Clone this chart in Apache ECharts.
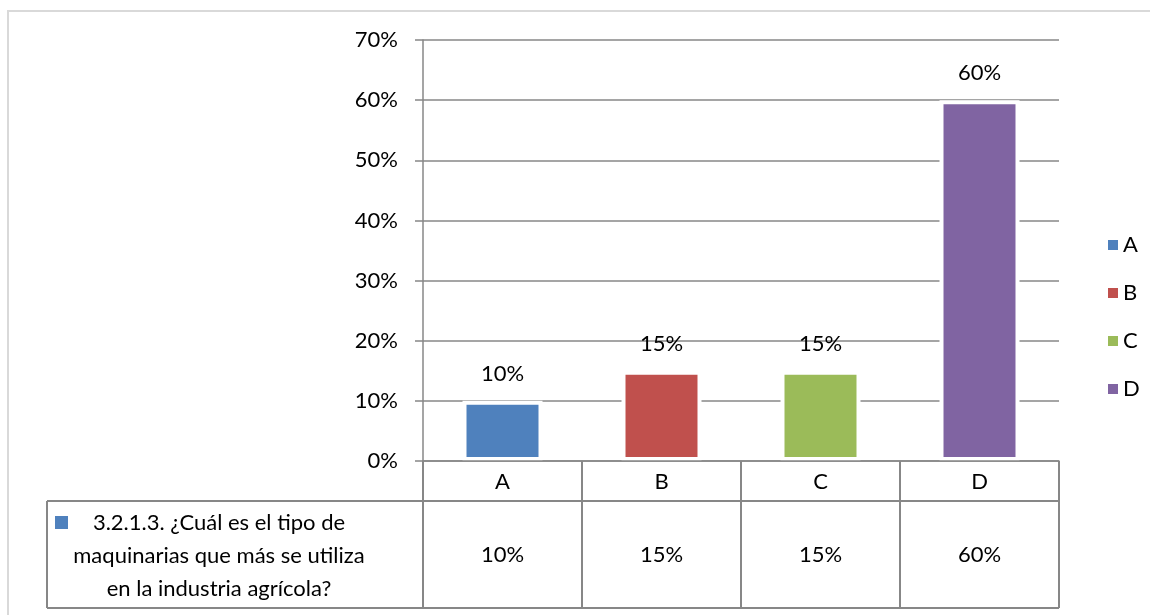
<!DOCTYPE html>
<html>
<head>
<meta charset="utf-8">
<script src="https://cdn.jsdelivr.net/npm/echarts@6/dist/echarts.min.js"></script>
<style>
  html, body { margin: 0; padding: 0; background: #fff; }
  #chart { width: 1150px; height: 615px; }
</style>
</head>
<body>
<div id="chart"></div>
<script>
// Share of answers per machinery type
const categories = ['A', 'B', 'C', 'D'];
const values = [10, 15, 15, 60];
const colors = ['#4f81bd', '#c0504d', '#9bbb59', '#8064a2'];
const yMin = 0, yMax = 70, yStep = 10;
const questionLines = [
  '3.2.1.3. ¿Cuál es el tipo de',
  'maquinarias que más se utiliza',
  'en la industria agrícola?'
];

const FONT = 'Lato, "Open Sans", sans-serif';
const LINE = '#878787';

const chart = echarts.init(document.getElementById('chart'));

chart.setOption({
  animation: false,
  backgroundColor: '#fff',
  grid: { left: 423, right: 91, top: 40, bottom: 154 },
  legend: {
    orient: 'vertical',
    left: 1103,
    top: 228,
    itemWidth: 10,
    itemHeight: 10,
    itemGap: 24,
    icon: 'rect',
    itemStyle: { borderWidth: 0 },
    textStyle: { fontFamily: FONT, fontSize: 22, color: '#000', lineHeight: 24 },
    data: categories
  },
  xAxis: {
    type: 'category',
    data: categories,
    z: 5,
    axisLine: { lineStyle: { color: LINE, width: 1.5 } },
    axisTick: { show: false },
    axisLabel: { margin: 10, fontFamily: FONT, fontSize: 22, color: '#000' }
  },
  yAxis: {
    type: 'value',
    min: yMin,
    max: yMax,
    interval: yStep,
    axisLine: { show: true, lineStyle: { color: LINE, width: 1.5 } },
    axisTick: { show: true, length: 8, lineStyle: { color: LINE, width: 1.5 } },
    splitLine: { lineStyle: { color: LINE, width: 1.5 } },
    axisLabel: { margin: 25, formatter: '{value}%', fontFamily: FONT, fontSize: 22, color: '#000' }
  },
  series: categories.map((name, i) => ({
    name: name,
    type: 'bar',
    barGap: '-100%',
    barWidth: 80,
    data: categories.map((c, j) => (j === i ? values[i] : '-')),
    itemStyle: { color: colors[i], borderColor: '#fff', borderWidth: 4 },
    label: {
      show: true,
      position: 'top',
      distance: 16,
      formatter: '{c}%',
      fontFamily: FONT,
      fontSize: 22,
      color: '#000'
    }
  }))
});

// Data table under the plot, laid out from the axis scales
function drawTable() {
  const centers = categories.map(c => chart.convertToPixel({ xAxisIndex: 0 }, c));
  const band = centers[1] - centers[0];
  const bounds = [centers[0] - band / 2].concat(centers.map(x => x + band / 2));
  const y0 = chart.convertToPixel({ yAxisIndex: 0 }, yMin);
  const headerBottom = y0 + 40;
  const rowBottom = headerBottom + 107;
  const tableLeft = 47;
  const right = bounds[bounds.length - 1];
  const ls = { stroke: LINE, lineWidth: 2 };
  const els = [];

  // outer frame of the chart area
  els.push({ type: 'rect', shape: { x: 8, y: 11, width: 1200, height: 700 },
    style: { fill: 'none', stroke: '#d9d9d9', lineWidth: 2 }, z: 0 });

  // horizontal rules
  els.push({ type: 'line', shape: { x1: tableLeft, y1: headerBottom, x2: right, y2: headerBottom }, style: ls, z: 10 });
  els.push({ type: 'line', shape: { x1: tableLeft, y1: rowBottom, x2: right, y2: rowBottom }, style: ls, z: 10 });
  // vertical rules
  bounds.forEach(x => {
    els.push({ type: 'line', shape: { x1: x, y1: y0, x2: x, y2: rowBottom }, style: ls, z: 10 });
  });
  els.push({ type: 'line', shape: { x1: tableLeft, y1: headerBottom, x2: tableLeft, y2: rowBottom }, style: ls, z: 10 });

  // series key and question text
  const rowMid = (headerBottom + rowBottom) / 2;
  els.push({ type: 'rect', shape: { x: 55, y: headerBottom + 15, width: 13, height: 13 },
    style: { fill: colors[0] }, z: 10 });
  questionLines.forEach((t, k) => {
    els.push({ type: 'text', z: 10, style: {
      text: t, x: 219, y: rowMid + 1.5 + (k - 1) * 33,
      align: 'center', verticalAlign: 'middle',
      fontFamily: FONT, fontSize: 22, fill: '#000'
    } });
  });

  // values row
  values.forEach((v, i) => {
    els.push({ type: 'text', z: 10, style: {
      text: v + '%', x: centers[i], y: rowMid,
      align: 'center', verticalAlign: 'middle',
      fontFamily: FONT, fontSize: 22, fill: '#000'
    } });
  });

  chart.setOption({ graphic: els });
}
drawTable();
</script>
</body>
</html>
